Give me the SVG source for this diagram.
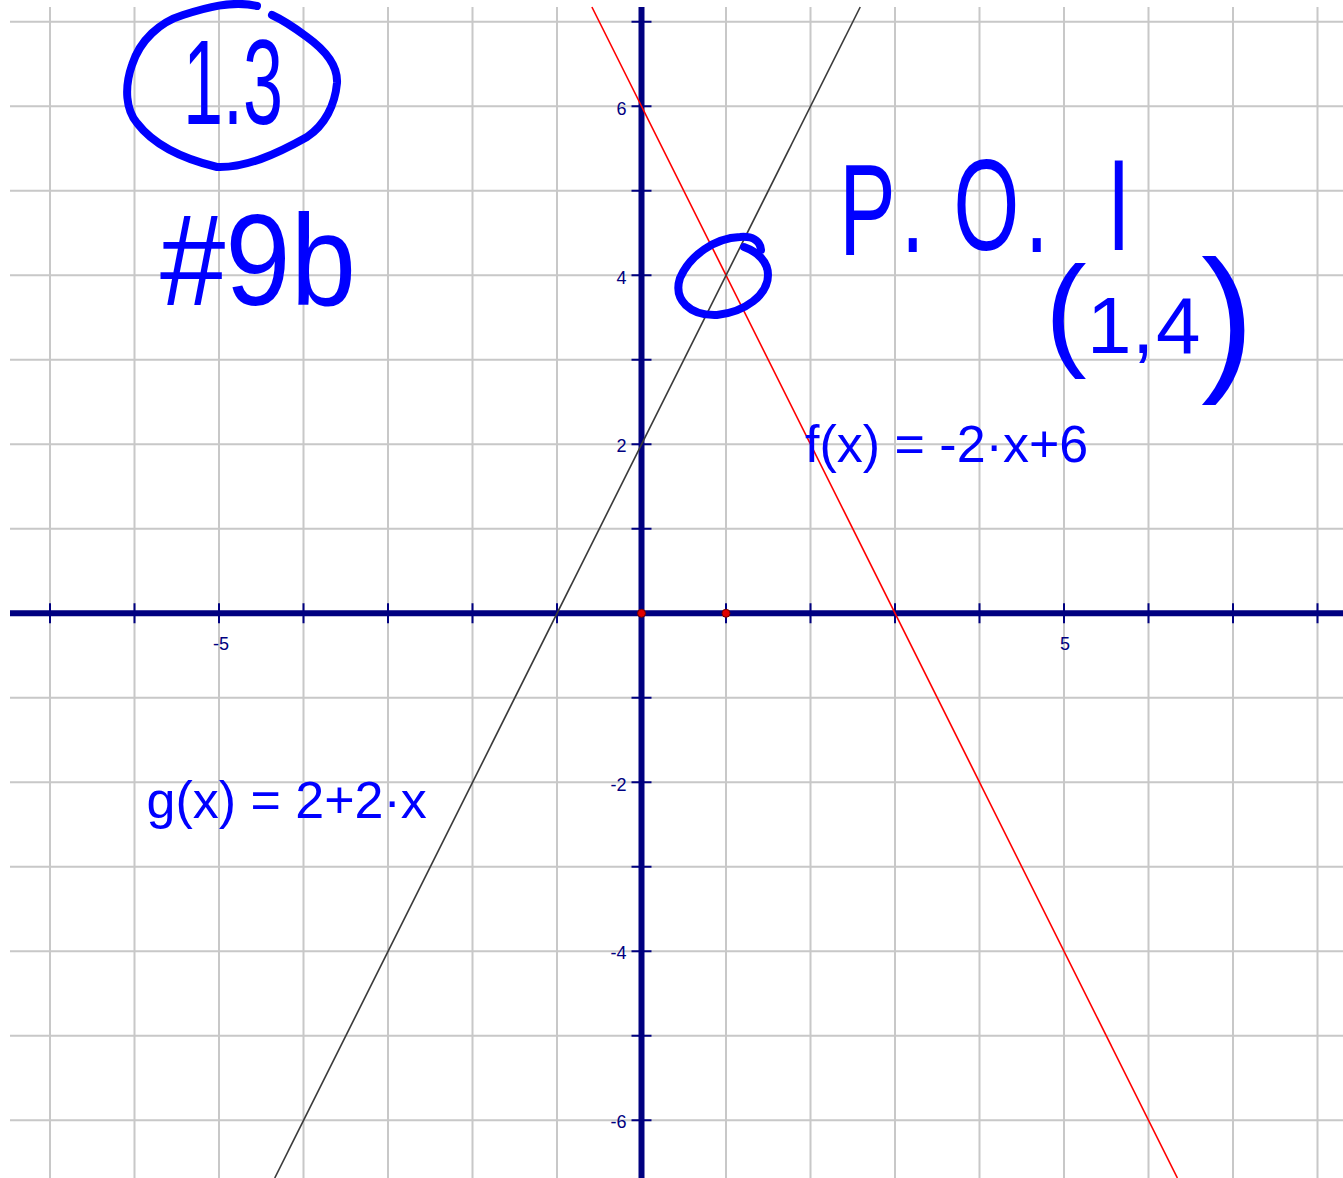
<svg xmlns="http://www.w3.org/2000/svg" width="1343" height="1178" viewBox="0 0 1343 1178">
<style>
.grid{fill:none;stroke:#c8c8c8;stroke-width:2}
.axis{fill:none;stroke:#000080;stroke-width:6}
.tick{fill:none;stroke:#000080;stroke-width:2}
.tl{font-family:"Liberation Sans",Arial,sans-serif;font-size:18px;fill:#000080;text-anchor:end}
.fn{font-family:"Liberation Sans",Arial,sans-serif;font-size:52px;fill:#0000ff}
.ink{fill:none;stroke:#0000ff;stroke-width:8;stroke-linecap:round;stroke-linejoin:round}
.hw{font-family:"Liberation Sans",Arial,sans-serif;fill:#0000ff}
.pt{fill:#e00000;stroke:#700000;stroke-width:1}
</style>
<rect width="1343" height="1178" fill="#ffffff"/>
<g id="grid">
<path class="grid" d="M50 7V1178M134.5 7V1178M219 7V1178M303.5 7V1178M388 7V1178M472.5 7V1178M557 7V1178M726 7V1178M810.5 7V1178M895 7V1178M979.5 7V1178M1064 7V1178M1148.5 7V1178M1233 7V1178M1317.5 7V1178"/>
<path class="grid" d="M10 21.8H1343M10 106.3H1343M10 190.8H1343M10 275.3H1343M10 359.8H1343M10 444.3H1343M10 528.8H1343M10 697.8H1343M10 782.3H1343M10 866.8H1343M10 951.3H1343M10 1035.8H1343M10 1120.3H1343"/>
</g>
<g id="axes">
<path class="axis" d="M10 613.3H1343M641.5 7V1178"/>
<path class="tick" d="M50 603.3V623.3M134.5 603.3V623.3M219 603.3V623.3M303.5 603.3V623.3M388 603.3V623.3M472.5 603.3V623.3M557 603.3V623.3M726 603.3V623.3M810.5 603.3V623.3M895 603.3V623.3M979.5 603.3V623.3M1064 603.3V623.3M1148.5 603.3V623.3M1233 603.3V623.3M1317.5 603.3V623.3"/>
<path class="tick" d="M631.5 21.8H651.5M631.5 106.3H651.5M631.5 190.8H651.5M631.5 275.3H651.5M631.5 359.8H651.5M631.5 444.3H651.5M631.5 528.8H651.5M631.5 697.8H651.5M631.5 782.3H651.5M631.5 866.8H651.5M631.5 951.3H651.5M631.5 1035.8H651.5M631.5 1120.3H651.5"/>
</g>
<g id="tick-labels">
<text class="tl" x="229" y="650">-5</text>
<text class="tl" x="1070" y="650">5</text>
<text class="tl" x="626.5" y="114.5">6</text>
<text class="tl" x="626.5" y="283.5">4</text>
<text class="tl" x="626.5" y="452">2</text>
<text class="tl" x="626.5" y="790.5">-2</text>
<text class="tl" x="626.5" y="959">-4</text>
<text class="tl" x="626.5" y="1128">-6</text>
</g>
<g id="connectors">
<line id="f-line" x1="591.9" y1="7" x2="1177.4" y2="1178" stroke="#ff0000" stroke-width="1.6"/>
<line id="g-line" x1="860.2" y1="7" x2="274.7" y2="1178" stroke="#3a3a3a" stroke-width="1.6"/>
</g>
<g id="points">
<circle class="pt" cx="641.5" cy="613.3" r="4"/>
<circle class="pt" cx="726" cy="613.3" r="4"/>
</g>
<g id="f-label"><text class="fn" x="805" y="461.5">f(x) = -2·x+6</text></g>
<g id="g-label"><text class="fn" x="146.5" y="818">g(x) = 2+2·x</text></g>
<g id="note-section">
<path class="ink" d="M257 6C232 0 205 8 183 15C160 22 140 40 132 65C124 88 126 110 137 123C150 140 175 157 217 167C245 168 275 155 307 137C325 125 335 105 337 83C338 65 325 50 307 37C295 28 285 21 272 15"/>
<text class="hw" x="183" y="124" font-size="120" textLength="100" lengthAdjust="spacingAndGlyphs">1.3</text>
</g>
<g id="note-problem">
<text class="hw" x="160" y="305" font-size="130" textLength="196" lengthAdjust="spacingAndGlyphs">#9b</text>
</g>
<g id="note-intersection">
<path class="ink" d="M761 250C760 240 752 236 740 237C715 238 690 255 680 278C673 300 690 316 717 315C745 312 768 295 768 275C768 262 758 252 744 247"/>
</g>
<g id="note-poi">
<text class="hw" font-size="130" transform="scale(0.65 1)" x="1291 1386 1467 1577 1703" y="255 252 250 252 250">P.O.I</text>
</g>
<g id="note-point">
<text class="hw"><tspan x="1045" y="353" font-size="125">(</tspan><tspan x="1087" y="353" font-size="80">1</tspan><tspan x="1132" y="353" font-size="80">,</tspan><tspan x="1156" y="353" font-size="80">4</tspan><tspan x="1201" y="372" font-size="160">)</tspan></text>
</g>
</svg>
